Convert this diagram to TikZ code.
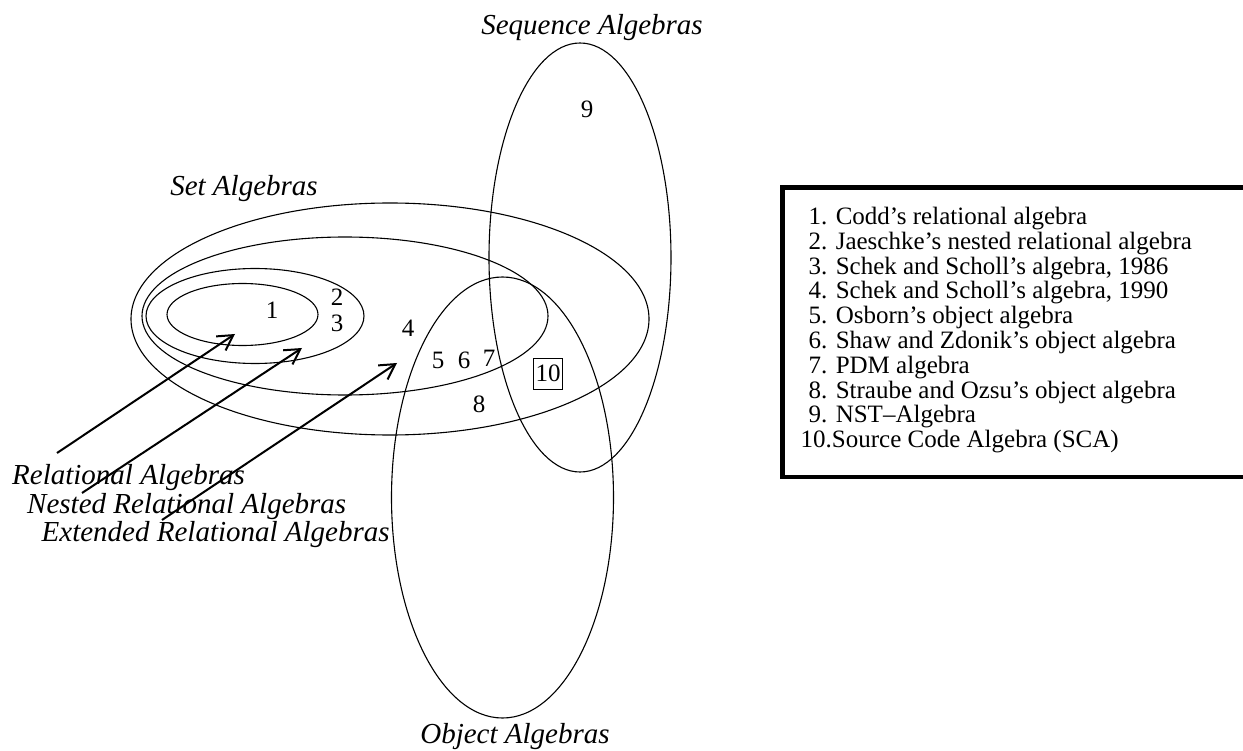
\documentclass[tikz,border=0pt]{standalone}
\usepackage{fontspec}
\setmainfont{Liberation Serif}
\usetikzlibrary{arrows.meta}
\begin{document}
\begin{tikzpicture}[x=1pt,y=-1pt,
  setline/.style={line width=1.1pt},
  pointer/.style={line width=2pt,-{Straight Barb[length=15pt,width=17pt,line width=2pt]}},
  digit/.style={font=\fontsize{25}{25}\selectfont, inner sep=0pt},
  family/.style={font=\fontsize{29}{29}\selectfont\itshape, inner sep=0pt},
  item/.style={font=\fontsize{25}{25}\selectfont, inner sep=0pt, anchor=base west}]
\useasboundingbox (0,0) rectangle (1243,751);

% nested set-algebra regions
\draw[setline] (390,319) ellipse [x radius=259pt, y radius=116pt];
\draw[setline] (345,316) ellipse [x radius=203pt, y radius=79pt];
\draw[setline] (255,316) ellipse [x radius=109pt, y radius=47.5pt];
\draw[setline] (242.5,314.5) ellipse [x radius=75.5pt, y radius=31pt];
% object and sequence algebras
\draw[setline] (502.5,497.5) ellipse [x radius=111pt, y radius=220.5pt];
\draw[setline] (580,257.5) ellipse [x radius=91pt, y radius=214.5pt];

% family names
\node[family, anchor=base] (seq) at (592,35) {Sequence Algebras};
\node[family, anchor=base] (obj) at (515,743) {Object Algebras};
\node[family, anchor=base] (set) at (244,196) {Set Algebras};
\node[family, anchor=base west] (rel) at (12,484) {Relational Algebras};
\node[family, anchor=base west] (nest) at (27,513) {Nested Relational Algebras};
\node[family, anchor=base west] (ext) at (41.5,541.5) {Extended Relational Algebras};

% members
\node[digit] (n1) at (272,310) {1};
\node[digit] (n2) at (337,297) {2};
\node[digit] (n3) at (337,323) {3};
\node[digit] (n4) at (408,328) {4};
\node[digit] (n5) at (438,360) {5};
\node[digit] (n6) at (464,360) {6};
\node[digit] (n7) at (489,358) {7};
\node[digit] (n8) at (479,404) {8};
\node[digit] (n9) at (587,109) {9};
\node[digit, draw, line width=0.9pt, minimum width=29pt, minimum height=31pt] (n10) at (548,373.5) {10};

% pointers from the names to their regions
\coordinate (r1) at (57,453);  \coordinate (t1) at (235,334);
\coordinate (r2) at (82,493);  \coordinate (t2) at (302,348);
\coordinate (r3) at (162,520); \coordinate (t3) at (397,363);
\draw[pointer] (r1) -- (t1);
\draw[pointer] (r2) -- (t2);
\draw[pointer] (r3) -- (t3);

% key
\draw[line width=4.5pt] (782.5,187.5) rectangle (1262,477);
\node[item] (k1) at (808.5,224.5) {1. Codd’s relational algebra};
\node[item] (k2) at (808.5,249.3) {2. Jaeschke’s nested relational algebra};
\node[item] (k3) at (808.5,274.1) {3. Schek and Scholl’s algebra, 1986};
\node[item] (k4) at (808.5,298.9) {4. Schek and Scholl’s algebra, 1990};
\node[item] (k5) at (808.5,323.7) {5. Osborn’s object algebra};
\node[item] (k6) at (808.5,348.5) {6. Shaw and Zdonik’s object algebra};
\node[item] (k7) at (808.5,373.3) {7. PDM algebra};
\node[item] (k8) at (808.5,398.1) {8. Straube and Ozsu’s object algebra};
\node[item] (k9) at (808.5,422.9) {9. NST\textendash Algebra};
\node[item] (k10) at (800.5,447.7) {10.Source Code Algebra (SCA)};
\end{tikzpicture}
\end{document}
